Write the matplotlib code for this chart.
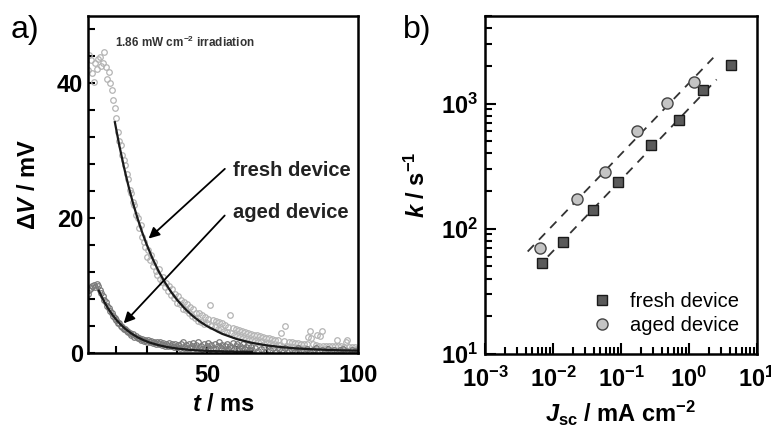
import numpy as np
import matplotlib
matplotlib.use("Agg")
import matplotlib.pyplot as plt
from matplotlib.ticker import MultipleLocator, LogLocator, NullFormatter, FuncFormatter

plt.rcParams['font.family'] = ['Liberation Sans', 'DejaVu Sans']
plt.rcParams['mathtext.fontset'] = 'custom'
plt.rcParams['mathtext.rm'] = 'Liberation Sans:bold'
plt.rcParams['mathtext.bf'] = 'Liberation Sans:bold'
plt.rcParams['mathtext.it'] = 'Liberation Sans:italic:bold'
plt.rcParams['axes.unicode_minus'] = False

# ---- panel a: photovoltage transients ----
t_fresh = [10.5, 11.0, 11.5, 12.0, 12.5, 13.0, 13.5, 14.0, 14.5, 15.0, 15.5, 16.0, 16.5, 17.0, 17.5, 18.0, 18.5, 19.0, 19.5, 20.0,
           20.5, 21.0, 21.5, 22.0, 22.5, 23.0, 23.5, 24.0, 24.5, 25.0, 25.5, 26.0, 26.5, 27.0, 27.5, 28.0, 28.5, 29.0, 29.5, 30.0,
           30.5, 31.0, 31.5, 32.0, 32.5, 33.0, 33.5, 34.0, 34.5, 35.0, 35.5, 36.0, 36.5, 37.0, 37.5, 38.0, 38.5, 39.0, 39.5, 40.0,
           40.5, 41.0, 41.5, 42.0, 42.5, 43.0, 43.5, 44.0, 44.5, 45.0, 45.5, 46.0, 46.5, 47.0, 47.5, 48.0, 48.5, 49.0, 49.5, 50.0,
           50.5, 51.0, 51.5, 52.0, 52.5, 53.0, 53.5, 54.0, 54.5, 55.0, 55.5, 56.0, 56.5, 57.0, 57.5, 58.0, 58.5, 59.0, 59.5, 60.0,
           60.5, 61.0, 61.5, 62.0, 62.5, 63.0, 63.5, 64.0, 64.5, 65.0, 65.5, 66.0, 66.5, 67.0, 67.5, 68.0, 68.5, 69.0, 69.5, 70.0,
           70.5, 71.0, 71.5, 72.0, 72.5, 73.0, 73.5, 74.0, 74.5, 75.0, 75.5, 76.0, 76.5, 77.0, 77.5, 78.0, 78.5, 79.0, 79.5, 80.0,
           80.5, 81.0, 81.5, 82.0, 82.5, 83.0, 83.5, 84.0, 84.5, 85.0, 85.5, 86.0, 86.5, 87.0, 87.5, 88.0, 88.5, 89.0, 89.5, 90.0,
           90.5, 91.0, 91.5, 92.0, 92.5, 93.0, 93.5, 94.0, 94.5, 95.0, 95.5, 96.0, 96.5, 97.0, 97.5, 98.0, 98.5, 99.0, 99.5, 100.0]
v_fresh = [42.0, 44.2, 43.4, 41.5, 40.2, 43.0, 42.2, 43.6, 43.9, 42.6, 43.0, 44.6, 42.4, 40.6, 41.7, 40.0, 39.0, 37.5, 36.3, 34.8,
           32.8, 31.5, 30.8, 29.4, 28.6, 27.9, 26.5, 25.8, 24.2, 23.8, 22.4, 21.9, 20.5, 20.1, 18.6, 19.0, 17.2, 16.4, 15.8, 14.2,
           15.3, 13.8, 14.6, 12.9, 13.5, 12.2, 11.6, 12.4, 11.0, 10.6, 11.3, 9.8, 10.4, 9.2, 9.9, 8.6, 9.5, 8.1, 8.8, 7.4,
           8.5, 7.2, 7.9, 6.6, 7.6, 6.4, 7.3, 5.9, 6.8, 5.5, 6.5, 5.2, 6.0, 4.8, 5.9, 4.6, 5.6, 4.3, 5.4, 4.4,
           5.1, 7.1, 4.0, 4.9, 3.8, 4.7, 3.5, 4.6, 3.6, 4.4, 3.2, 4.2, 3.1, 3.9, 5.6, 2.9, 3.7, 2.7, 3.6, 2.5,
           3.4, 2.4, 3.3, 2.2, 3.1, 2.1, 3.0, 1.9, 2.8, 2.0, 2.7, 1.8, 2.6, 1.6, 2.5, 1.7, 2.4, 1.4, 2.3, 1.5,
           2.2, 1.3, 2.1, 1.2, 2.0, 1.1, 1.9, 1.2, 2.9, 0.9, 1.8, 4.0, 1.0, 1.7, 0.8, 1.6, 0.9, 1.5, 0.7, 1.5,
           0.8, 1.4, 0.6, 1.4, 0.7, 1.3, 2.4, 3.2, 2.2, 1.3, 0.6, 1.2, 2.6, 1.1, 2.5, 3.2, 1.1, 0.6, 1.1, 0.5,
           1.1, 0.5, 1.0, 0.5, 1.0, 1.9, 1.0, 0.4, 1.0, 0.4, 0.9, 1.6, 2.0, 0.9, 0.4, 0.9, 0.4, 0.9, 0.4, 0.8]

t_aged = [10.5, 11.0, 11.5, 12.0, 12.5, 13.0, 13.5, 14.0, 14.5, 15.0, 15.5, 16.0, 16.5, 17.0, 17.5, 18.0, 18.5, 19.0, 19.5, 20.0,
          20.5, 21.0, 21.5, 22.0, 22.5, 23.0, 23.5, 24.0, 24.5, 25.0, 25.5, 26.0, 26.5, 27.0, 27.5, 28.0, 28.5, 29.0, 29.5, 30.0,
          30.5, 31.0, 31.5, 32.0, 32.5, 33.0, 33.5, 34.0, 34.5, 35.0, 35.5, 36.0, 36.5, 37.0, 37.5, 38.0, 38.5, 39.0, 39.5, 40.0,
          40.5, 41.0, 41.5, 42.0, 42.5, 43.0, 43.5, 44.0, 44.5, 45.0, 45.5, 46.0, 46.5, 47.0, 47.5, 48.0, 48.5, 49.0, 49.5, 50.0,
          50.5, 51.0, 51.5, 52.0, 52.5, 53.0, 53.5, 54.0, 54.5, 55.0, 55.5, 56.0, 56.5, 57.0, 57.5, 58.0, 58.5, 59.0, 59.5, 60.0,
          60.5, 61.0, 61.5, 62.0, 62.5, 63.0, 63.5, 64.0, 64.5, 65.0,
          66, 67, 68, 69, 70, 71, 72, 73, 74, 75, 76, 77, 78, 79, 80, 81, 82, 83, 84, 85,
          86, 87, 88, 89, 90, 91, 92, 93, 94, 95, 96, 97, 98, 99, 100]
v_aged = [8.7, 9.3, 9.6, 9.9, 10.1, 9.8, 10.2, 9.9, 9.4, 8.9, 8.4, 7.9, 7.6, 7.0, 6.7, 6.2, 5.9, 5.5, 5.2, 4.9,
          4.5, 4.4, 4.0, 3.9, 3.5, 3.6, 3.2, 3.1, 2.9, 2.7, 2.8, 2.4, 2.5, 2.2, 2.3, 2.0, 2.1, 1.8, 2.0, 1.7,
          1.9, 1.6, 1.8, 1.5, 1.7, 1.4, 1.6, 1.3, 1.6, 1.2, 1.5, 1.1, 1.4, 1.0, 1.5, 1.0, 1.3, 0.9, 1.4, 0.9,
          1.2, 0.8, 1.3, 1.6, 0.8, 1.2, 0.7, 1.4, 0.8, 1.1, 1.5, 0.7, 1.2, 1.6, 0.8, 1.1, 0.6, 1.3, 0.7, 1.0,
          1.5, 0.6, 1.2, 0.8, 1.4, 0.6, 1.1, 1.6, 0.7, 1.2, 0.5, 1.0, 1.4, 0.6, 1.1, 0.7, 1.5, 0.6, 1.0, 1.3,
          0.5, 1.0, 0.7, 1.3, 0.6, 0.9, 1.2, 0.5, 0.9, 0.4,
          0.8, 0.3, 0.6, 0.9, 0.3, 0.5, 0.7, 0.2, 0.6, 0.4, 0.8, 0.3, 0.5, 0.2, 0.7, 0.4, 0.3, 0.6, 0.2, 0.5,
          0.7, 0.3, 0.4, 0.2, 0.6, 0.3, 0.5, 0.2, 0.4, 0.6, 0.3, 0.2, 0.5, 0.3, 0.4]

# exponential fits as drawn
t_fit_fresh = [19.5, 21.0, 22.5, 24.0, 25.5, 27.0, 28.5, 30.0, 32.0, 34.0, 36.0, 38.0, 40.0, 42.5, 45.0, 47.5, 50.0,
               55.0, 60.0, 65.0, 70.0, 75.0, 80.0, 85.0, 90.0, 95.0, 100.0]
v_fit_fresh = [34.25, 30.75, 27.61, 24.79, 22.25, 20.0, 17.96, 16.14, 13.99, 12.13, 10.53, 9.14, 7.94, 6.67, 5.61, 4.72, 3.99,
               2.85, 2.05, 1.5, 1.12, 0.86, 0.67, 0.55, 0.46, 0.39, 0.35]
t_fit_aged = [14.2, 15.0, 16.0, 17.0, 18.0, 19.0, 20.0, 21.5, 23.0, 25.0, 27.0, 29.0, 31.0, 34.0, 37.0, 40.0, 44.0,
              48.0, 52.0, 56.0, 60.0, 65.0]
v_fit_aged = [9.25, 8.48, 7.60, 6.82, 6.12, 5.49, 4.93, 4.19, 3.57, 2.89, 2.34, 1.91, 1.56, 1.16, 0.87, 0.67, 0.48,
              0.36, 0.29, 0.24, 0.21, 0.18]

# ---- panel b: rate constant vs short circuit current ----
jsc_fresh = [0.0068, 0.0142, 0.039, 0.091, 0.28, 0.72, 1.62, 4.1]
k_fresh = [53, 79, 140, 235, 464, 745, 1294, 2014]
jsc_aged = [0.0064, 0.0228, 0.058, 0.17, 0.48, 1.17]
k_aged = [70, 173, 282, 600, 1013, 1490]
fitline_fresh_x = [0.0084, 2.55]
fitline_fresh_y = [60, 1556]
fitline_aged_x = [0.00425, 2.28]
fitline_aged_y = [65.8, 2323]


def pow10(v, pos):
    return '$10^{%d}$' % int(round(np.log10(v)))


fig = plt.figure(figsize=(7.71, 4.28), dpi=100)
ax1 = fig.add_axes([0.1141, 0.1752, 0.3502, 0.7874])
ax2 = fig.add_axes([0.629, 0.1729, 0.3528, 0.7897])

ax1.plot(t_fresh, v_fresh, 'o', ms=4, mfc='none', mec='#b4b4b4', mew=0.9)
ax1.plot(t_aged, v_aged, 'o', ms=4, mfc='none', mec='#7a7a7a', mew=0.9)
ax1.plot(t_fit_fresh, v_fit_fresh, '-', color='#1a1a1a', lw=1.6)
ax1.plot(t_fit_aged, v_fit_aged, '-', color='#1a1a1a', lw=1.6)

ax1.annotate('', xy=(30.0, 16.7), xytext=(56.6, 27.6),
             arrowprops=dict(arrowstyle='-|>', color='k', lw=1.3, mutation_scale=16))
ax1.annotate('', xy=(21.8, 4.1), xytext=(56.5, 20.7),
             arrowprops=dict(arrowstyle='-|>', color='k', lw=1.3, mutation_scale=16))
ax1.text(58.6, 27.1, 'fresh device', fontsize=14.5, fontweight='bold', color='#222222', va='center')
ax1.text(58.6, 20.9, 'aged device', fontsize=14.5, fontweight='bold', color='#222222', va='center')
ax1.text(19.5, 46.1, '1.86 mW cm$^{-2}$ irradiation', fontsize=8.5, fontweight='bold',
         color='#333333', va='center')

ax1.set_xlim(10.6, 100)
ax1.set_ylim(0, 50)
ax1.xaxis.set_major_locator(MultipleLocator(50))
ax1.xaxis.set_minor_locator(MultipleLocator(10))
ax1.yaxis.set_major_locator(MultipleLocator(20))
ax1.yaxis.set_minor_locator(MultipleLocator(4))
ax1.tick_params(which='both', direction='in', width=1.5, labelsize=17, top=False, right=False)
ax1.tick_params(which='major', length=5)
ax1.tick_params(which='minor', length=5)
ax1.tick_params(axis='x', which='major', pad=8)
for lab in ax1.get_xticklabels() + ax1.get_yticklabels():
    lab.set_fontweight('bold')
ax1.set_xlabel('$t$ / ms', fontsize=17, fontweight='bold', labelpad=4)
ax1.set_ylabel('Δ$V$ / mV', fontsize=17, fontweight='bold', labelpad=12)

ax2.plot(fitline_aged_x, fitline_aged_y, '--', color='#333333', lw=1.3, dashes=(5, 4))
ax2.plot(fitline_fresh_x, fitline_fresh_y, '--', color='#333333', lw=1.3, dashes=(5, 4))
ax2.plot(jsc_fresh, k_fresh, 's', ms=7, mfc='#5a5a5a', mec='#1a1a1a', mew=1.0, label='fresh device')
ax2.plot(jsc_aged, k_aged, 'o', ms=8, mfc='#c4c4c4', mec='#444444', mew=1.0, label='aged device')
ax2.set_xscale('log')
ax2.set_yscale('log')
ax2.set_xlim(1e-3, 1e1)
ax2.set_ylim(10, 5000)
ax2.xaxis.set_major_locator(LogLocator(base=10, numticks=10))
ax2.xaxis.set_minor_locator(LogLocator(base=10, subs=np.arange(2, 10), numticks=10))
ax2.yaxis.set_major_locator(LogLocator(base=10, numticks=10))
ax2.yaxis.set_minor_locator(LogLocator(base=10, subs=np.arange(2, 10), numticks=10))
ax2.xaxis.set_major_formatter(FuncFormatter(pow10))
ax2.yaxis.set_major_formatter(FuncFormatter(pow10))
ax2.xaxis.set_minor_formatter(NullFormatter())
ax2.yaxis.set_minor_formatter(NullFormatter())
ax2.tick_params(which='both', direction='in', width=1.5, labelsize=17, top=False, right=False)
ax2.tick_params(which='major', length=8)
ax2.tick_params(which='minor', length=5)
ax2.tick_params(axis='x', which='major', pad=9)
ax2.tick_params(axis='y', which='major', pad=5)
ax2.set_xlabel('$J_{\\rm sc}$ / mA cm$^{-2}$', fontsize=17, fontweight='bold', labelpad=5)
ax2.set_ylabel('$k$ / s$^{-1}$', fontsize=17, fontweight='bold', labelpad=8)
ax2.legend(loc='lower right', bbox_to_anchor=(0.98, 0.02), frameon=False, fontsize=14.5,
           handletextpad=0.4, labelspacing=0.25, borderaxespad=0.2)

for ax in (ax1, ax2):
    for s in ax.spines.values():
        s.set_linewidth(1.8)

fig.text(0.014, 0.93, 'a)', fontsize=23, va='center')
fig.text(0.523, 0.93, 'b)', fontsize=23, va='center')

fig.savefig('out.png', dpi=100)
